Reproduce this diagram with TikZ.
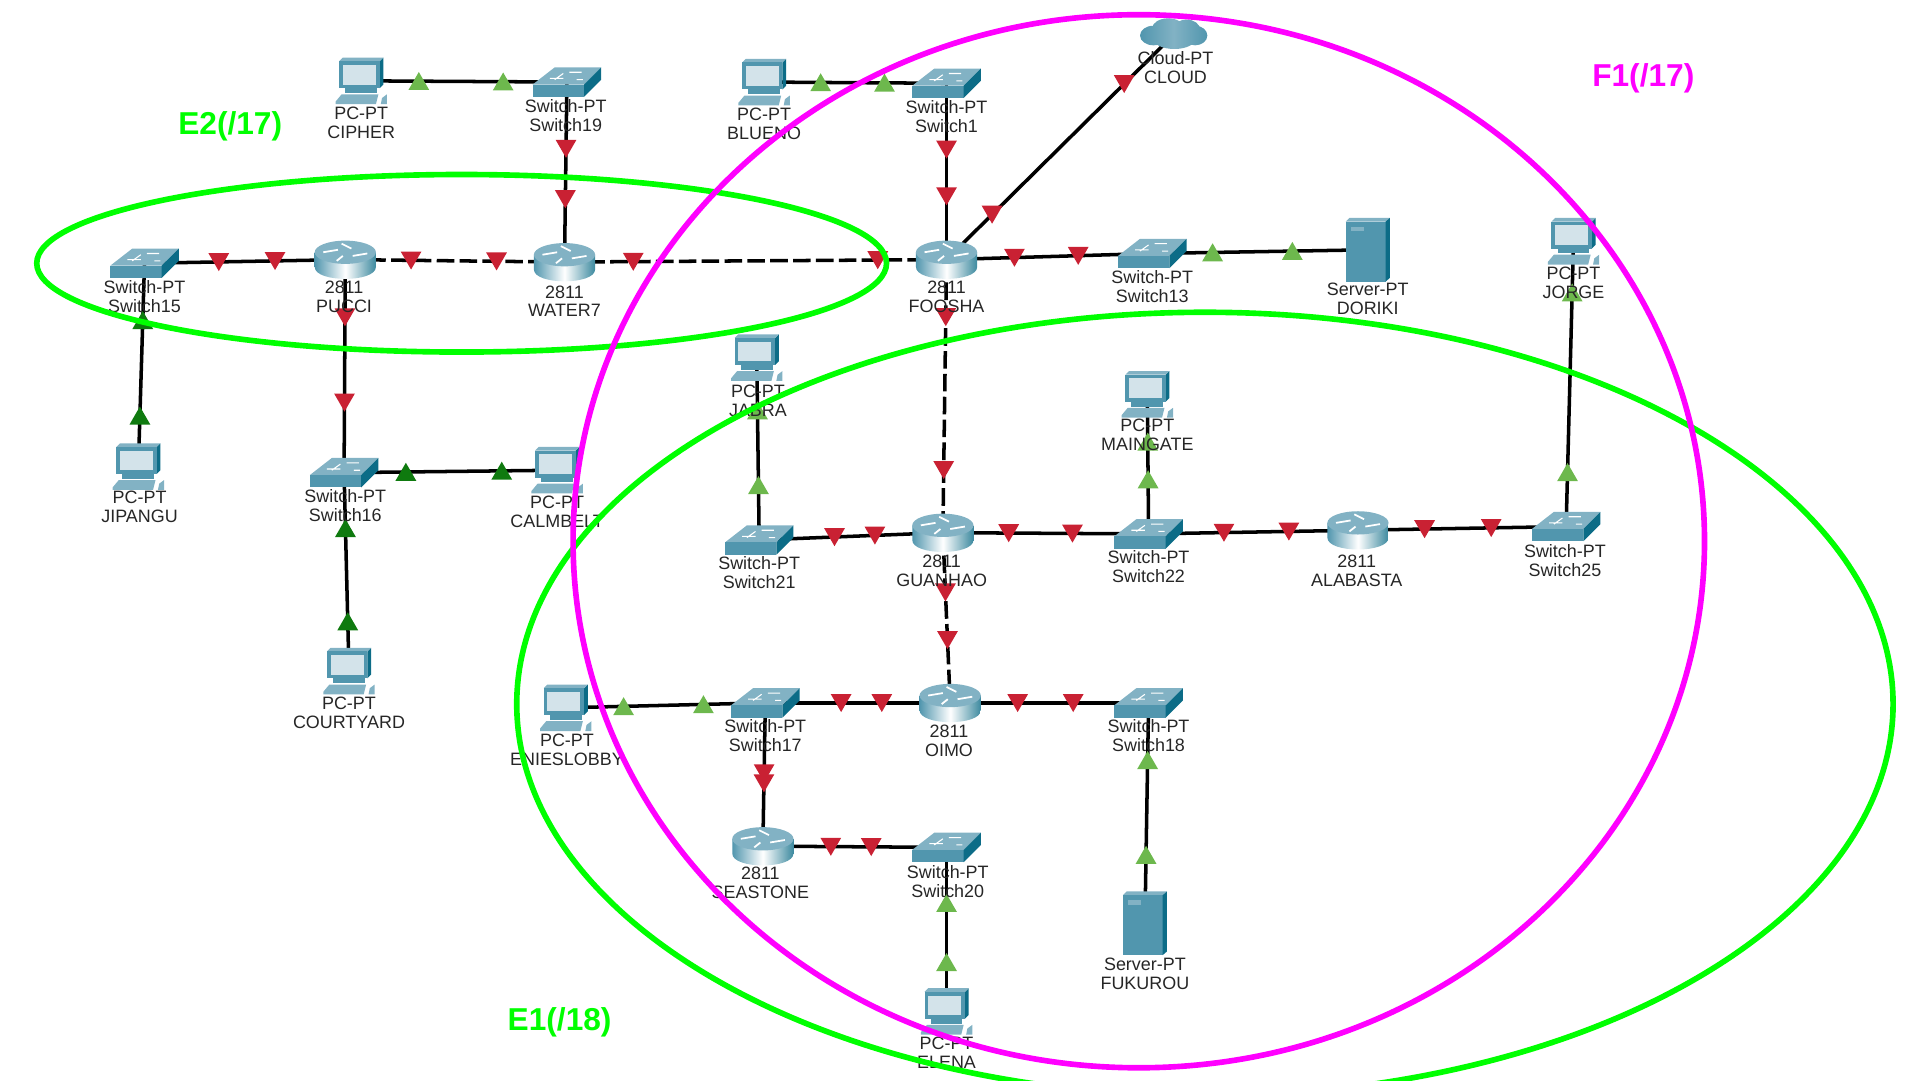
\documentclass[tikz,border=0pt]{standalone}
\usepackage{fontspec}
\setmainfont{Liberation Sans}
\usetikzlibrary{backgrounds,shapes.geometric}
\definecolor{iconfront}{HTML}{5196AE}
\definecolor{icontop}{HTML}{82B2C4}
\definecolor{iconside}{HTML}{0C6C87}
\definecolor{iconscreen}{HTML}{D3E3EA}
\definecolor{lightred}{HTML}{C92133}
\definecolor{lightgreen}{HTML}{6DB84D}
\definecolor{deepgreen}{HTML}{0F7A0F}
\definecolor{zonegreen}{HTML}{00FF00}
\definecolor{zonepink}{HTML}{FF00FF}
\tikzset{
    devnode/.style={inner sep=0pt, outer sep=0pt, minimum width=0.6cm, minimum height=0.3cm},
    devlabel/.style={font=\fontsize{5.1}{5.4}\selectfont, align=center, inner sep=0pt, text=black!85},
    wire/.style={draw=black, line width=1pt},
    brokenwire/.style={wire, dash pattern=on 5pt off 1.5pt},
    light/.style={regular polygon, regular polygon sides=3, minimum size=0.24cm, inner sep=0pt, outer sep=0pt},
    redlight/.style={light, fill=lightred, shape border rotate=180, yshift=0.8pt},
    greenlight/.style={light, fill=lightgreen, yshift=-0.8pt},
    darklight/.style={light, fill=deepgreen, yshift=-0.8pt},
    zone/.style={line width=1.6pt},
    zonetitle/.style={font=\fontsize{9}{10}\bfseries\selectfont, inner sep=0pt},
    switchicon/.pic={
        \fill[icontop] (-28,2) -- (-10,-12) -- (28,-12) -- (14,2) -- cycle;
        \fill[iconfront] (-28,2) rectangle (14,12);
        \fill[iconside] (14,2) -- (28,-12) -- (28,-2) -- (14,12) -- cycle;
        \draw[white, line width=0.3pt] (-14,-3) -- (-3,-3) (2,-8) -- (12,-8) (-3,-7) -- (-10,-2) (8,-2) -- (13,-2);
    },
    routericon/.pic={
        \shade[left color=iconfront, right color=iconside!80!white, middle color=white]
            (-25,-6) -- (-25,6) .. controls (-25,19) and (25,19) .. (25,6) -- (25,-6) -- cycle;
        \fill[icontop] (0,-6) ellipse [x radius=25, y radius=9.5];
        \draw[white, line width=0.5pt] (-18,-6) -- (-6,-8) (6,-3) -- (18,-5) (-3,-13) -- (5,-9) (-7,1) -- (-2,-3);
    },
    pcicon/.pic={
        \fill[iconside] (15,-16) -- (18,-19) -- (18,3) -- (15,6) -- cycle;
        \fill[icontop] (-18,-16) -- (-15,-19) -- (18,-19) -- (15,-16) -- cycle;
        \fill[iconfront] (-18,-16) rectangle (15,6);
        \fill[iconscreen] (-15,-13) rectangle (12,3);
        \fill[iconfront] (-13,6) rectangle (13,10);
        \fill[icontop] (-21,17) -- (-16,11) -- (14,11) -- (12,19) -- (-21,19) -- cycle;
        \fill[icontop] (16,19) -- (17,14) -- (21,11) -- (21,19) -- cycle;
    },
    servericon/.pic={
        \fill[icontop] (-18,-23) -- (-15,-26) -- (18,-26) -- (14.5,-23) -- cycle;
        \fill[iconfront] (-18,-23) rectangle (14.5,26);
        \fill[iconside] (14.5,-23) -- (18,-26) -- (18,23) -- (14.5,26) -- cycle;
        \fill[icontop] (-14,-19) rectangle (-3,-15);
    },
    cloudicon/.pic={
        \shade[left color=iconfront, right color=iconfront, middle color=icontop]
            (-17,1) ellipse [x radius=11, y radius=8]
            (-5,-5) ellipse [x radius=13, y radius=8]
            (10,-4) ellipse [x radius=11, y radius=8]
            (17,1) ellipse [x radius=10, y radius=8]
            (0,4) ellipse [x radius=17, y radius=8];
    },
}
\newcommand{\switchdev}[4]{
    \node[devnode, minimum width=0.68cm] (#1) at (#2) {};
    \pic at (#1) {switchicon};
    \node[devlabel] (#1label) at (#3) {Switch-PT\\#4};
}
\newcommand{\routerdev}[4]{
    \node[devnode, minimum height=0.38cm] (#1) at (#2) {};
    \pic at (#1) {routericon};
    \node[devlabel] (#1label) at (#3) {2811\\#4};
}
\newcommand{\pcdev}[4]{
    \node[devnode, minimum width=0.5cm, minimum height=0.46cm] (#1) at (#2) {};
    \pic at (#1) {pcicon};
    \node[devlabel] (#1label) at (#3) {PC-PT\\#4};
}
\newcommand{\serverdev}[4]{
    \node[devnode, minimum width=0.44cm, minimum height=0.64cm] (#1) at (#2) {};
    \pic at (#1) {servericon};
    \node[devlabel] (#1label) at (#3) {Server-PT\\#4};
}
\newcommand{\linkwire}[6][wire]{
    \draw[#1] (#2.center) -- node[#4, pos=#5] (#2#3a) {} node[#4, pos=#6] (#2#3b) {} (#3.center);
}

\begin{document}
\begin{tikzpicture}[x=0.012245cm, y=-0.012245cm]
    \path[use as bounding box] (0,0) rectangle (1568,882);

    \pcdev{cipher}{295,66}{295,100}{CIPHER}
    \switchdev{switchnineteen}{463,67}{462,94}{Switch19}
    \pcdev{blueno}{624,67}{624,101}{BLUENO}
    \switchdev{switchone}{773,68}{773,95}{Switch1}
    \node[devnode, minimum width=0.66cm] (cloud) at (959,28) {};
    \pic at (cloud) {cloudicon};
    \node[devlabel] (cloudlabel) at (960,55) {Cloud-PT\\CLOUD};

    \switchdev{switchfifteen}{118,215}{118,242}{Switch15}
    \routerdev{pucci}{282,212}{281,242}{PUCCI}
    \routerdev{water}{461,214}{461,246}{WATER7}
    \routerdev{foosha}{773,212}{773,242}{FOOSHA}
    \switchdev{switchthirteen}{941,207}{941,234}{Switch13}
    \serverdev{doriki}{1117,204}{1117,244}{DORIKI}
    \pcdev{jorge}{1285,197}{1285,231}{JORGE}

    \pcdev{jipangu}{113,381}{114,414}{JIPANGU}
    \switchdev{switchsixteen}{281,386}{282,413}{Switch16}
    \pcdev{calmbelt}{455,384}{455,418}{CALMBELT}
    \pcdev{courtyard}{285,548}{285,582}{COURTYARD}

    \pcdev{jabra}{618,292}{619,327}{JABRA}
    \pcdev{maingate}{937,322}{937,355}{MAINGATE}
    \switchdev{switchtwentyone}{620,441}{620,468}{Switch21}
    \routerdev{guanhao}{770,435}{769,466}{GUANHAO}
    \switchdev{switchtwentytwo}{938,436}{938,463}{Switch22}
    \routerdev{alabasta}{1109,433}{1108,466}{ALABASTA}
    \switchdev{switchtwentyfive}{1279,430}{1278,458}{Switch25}

    \pcdev{enieslobby}{462,578}{463,612}{ENIESLOBBY}
    \switchdev{switchseventeen}{625,574}{625,601}{Switch17}
    \routerdev{oimo}{776,574}{775,605}{OIMO}
    \switchdev{switcheighteen}{938,574}{938,601}{Switch18}
    \routerdev{seastone}{623,691}{621,721}{SEASTONE}
    \switchdev{switchtwenty}{773,692}{774,720}{Switch20}
    \serverdev{fukurou}{935,754}{935,795}{FUKUROU}
    \pcdev{elena}{773,826}{773,860}{ELENA}

    \begin{scope}[on background layer]
        \linkwire{cipher}{switchnineteen}{greenlight}{.28}{.69}
        \linkwire{switchnineteen}{water}{redlight}{.37}{.65}
        \linkwire{blueno}{switchone}{greenlight}{.31}{.66}
        \linkwire{switchone}{foosha}{redlight}{.375}{.64}
        \linkwire{foosha}{cloud}{redlight}{.2}{.78}
        \linkwire{foosha}{switchthirteen}{redlight}{.33}{.64}
        \linkwire{switchthirteen}{doriki}{greenlight}{.28}{.65}
        \linkwire{switchfifteen}{pucci}{redlight}{.37}{.65}
        \linkwire[brokenwire]{pucci}{water}{redlight}{.3}{.69}
        \linkwire[brokenwire]{water}{foosha}{redlight}{.18}{.82}
        \linkwire{jipangu}{switchfifteen}{darklight}{.25}{.72}
        \linkwire{pucci}{switchsixteen}{redlight}{.27}{.67}
        \linkwire{switchsixteen}{calmbelt}{darklight}{.29}{.74}
        \linkwire{courtyard}{switchsixteen}{darklight}{.25}{.72}
        \linkwire[brokenwire]{foosha}{guanhao}{redlight}{.21}{.77}
        \linkwire{switchtwentyone}{guanhao}{redlight}{.41}{.63}
        \linkwire{switchtwentyone}{jabra}{greenlight}{.3}{.71}
        \linkwire{guanhao}{switchtwentytwo}{redlight}{.32}{.63}
        \linkwire{switchtwentytwo}{maingate}{greenlight}{.39}{.66}
        \linkwire{switchtwentytwo}{alabasta}{redlight}{.36}{.67}
        \linkwire{alabasta}{switchtwentyfive}{redlight}{.32}{.64}
        \linkwire{switchtwentyfive}{jorge}{greenlight}{.19}{.82}
        \linkwire[brokenwire]{guanhao}{oimo}{redlight}{.35}{.63}
        \linkwire{enieslobby}{switchseventeen}{greenlight}{.29}{.69}
        \linkwire{switchseventeen}{oimo}{redlight}{.41}{.63}
        \linkwire{oimo}{switcheighteen}{redlight}{.34}{.62}
        \linkwire{fukurou}{switcheighteen}{greenlight}{.31}{.74}
        \linkwire{switchseventeen}{seastone}{redlight}{.49}{.56}
        \linkwire{seastone}{switchtwenty}{redlight}{.37}{.59}
        \linkwire{elena}{switchtwenty}{greenlight}{.3}{.66}
    \end{scope}

    \draw[zone, zonegreen] (377,215) ellipse [x radius=347, y radius=72.5];
    \draw[zone, zonegreen] (984,575) ellipse [x radius=562, y radius=320];
    \draw[zone, zonepink] (930,442) ellipse [x radius=462, y radius=430];

    \node[zonetitle, text=zonegreen] (etwotitle) at (188,103) {E2(/17)};
    \node[zonetitle, text=zonegreen] (eonetitle) at (457,835) {E1(/18)};
    \node[zonetitle, text=zonepink] (fonetitle) at (1342,64) {F1(/17)};
\end{tikzpicture}
\end{document}
